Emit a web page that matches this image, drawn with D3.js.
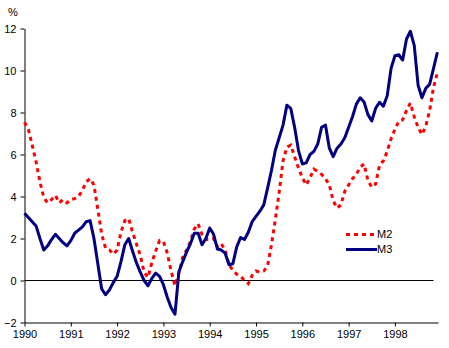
<!DOCTYPE html>
<html>
<head>
<meta charset="utf-8">
<script src="https://cdn.jsdelivr.net/npm/d3@7"></script>
<style>
  html, body { margin: 0; padding: 0; background: #fff; }
  svg { display: block; }
  .lbl { font-family: "Liberation Sans Narrow", "Arial Narrow", "Liberation Sans", Arial, sans-serif; font-size: 11px; fill: #000; }
</style>
</head>
<body>
<svg id="chart" width="449" height="348"></svg>
<script>
// Monthly growth rates, January 1990 to December 1998 (per cent)
const startYear = 1990;
const yearTicks = [1990, 1991, 1992, 1993, 1994, 1995, 1996, 1997, 1998];
const valueTicks = [-2, 0, 2, 4, 6, 8, 10, 12];
const seriesNames = ["M2", "M3"];

const m2 = [
  7.54, 7.2, 6.45, 5.65, 4.7, 3.95, 3.7, 3.85, 4.05, 3.7, 3.85, 3.7,
  3.85, 3.9, 4.0, 4.3, 4.7, 4.85, 4.55, 3.4, 2.2, 1.55, 1.46, 1.25,
  1.45, 2.3, 2.85, 2.95, 2.3, 1.75, 1.2, 0.4, 0.15, 0.85, 1.4, 1.9,
  1.85, 1.3, 0.45, -0.25, 0.35, 1.1, 1.45, 1.85, 2.45, 2.7, 2.2, 1.95,
  1.95, 2.0, 1.6, 1.75, 1.45, 0.75, 0.48, 0.3, 0.2, 0.0, -0.15, 0.25,
  0.45, 0.4, 0.45, 0.7, 1.7, 2.9, 4.2, 5.7, 6.35, 6.45, 5.9, 5.35,
  4.9, 4.55, 4.9, 5.3, 5.2, 5.05, 4.85, 4.55, 3.8, 3.45, 3.6, 4.25,
  4.55, 4.85, 5.05, 5.4, 5.55, 4.76, 4.44, 4.6, 5.48, 5.7, 6.15, 6.75,
  7.2, 7.58, 7.65, 8.1, 8.45, 7.8, 7.3, 6.95, 7.35, 8.1, 9.2, 9.9
];

const m3 = [
  3.2, 3.0, 2.8, 2.6, 2.0, 1.45, 1.65, 1.95, 2.2, 2.0, 1.8, 1.65,
  1.9, 2.25, 2.4, 2.55, 2.8, 2.85, 2.0, 0.8, -0.4, -0.68, -0.45, -0.1,
  0.2, 0.9, 1.7, 2.0, 1.4, 0.85, 0.4, 0.0, -0.25, 0.1, 0.35, 0.2,
  -0.2, -0.8, -1.3, -1.6, 0.4, 0.9, 1.35, 1.75, 2.25, 2.25, 1.7, 2.0,
  2.5, 2.2, 1.5, 1.45, 1.3, 0.75, 0.8, 1.6, 2.05, 1.95, 2.3, 2.8,
  3.05, 3.3, 3.6, 4.4, 5.24, 6.2, 6.8, 7.4, 8.35, 8.2, 7.3, 6.2,
  5.55, 5.6, 6.0, 6.15, 6.5, 7.3, 7.4, 6.3, 5.9, 6.3, 6.5, 6.8,
  7.3, 7.8, 8.4, 8.7, 8.5, 7.9, 7.6, 8.2, 8.49, 8.3, 8.8, 10.1,
  10.7, 10.75, 10.5, 11.5, 11.87, 11.2, 9.3, 8.7, 9.15, 9.35, 10.1, 10.87
];

const svg = d3.select("#chart");

const x = d3.scaleLinear().domain([1990, 1998.93]).range([24.5, 438]);
const y = d3.scaleLinear().domain([-2, 12]).range([322.5, 28.5]);

const t = i => startYear + i / 12;

// Zero reference line
svg.append("line")
  .attr("x1", x(1990)).attr("x2", x(1998 + 10 / 12))
  .attr("y1", y(0)).attr("y2", y(0))
  .attr("stroke", "#000").attr("stroke-width", 1);

// Axes
const xAxis = d3.axisBottom(x).tickValues(yearTicks).tickFormat(d3.format("d"))
  .tickSizeInner(4).tickSizeOuter(0).tickPadding(4);
const yAxis = d3.axisLeft(y).tickValues(valueTicks).tickFormat(d3.format("d"))
  .tickSizeInner(4).tickSizeOuter(0).tickPadding(4);

const gx = svg.append("g").attr("transform", `translate(0,${y(-2)})`).call(xAxis);
const gy = svg.append("g").attr("transform", `translate(${x(1990)},0)`).call(yAxis);
[gx, gy].forEach(g => {
  g.selectAll("path, line").attr("stroke", "#000").attr("stroke-width", 1);
  g.selectAll("text").attr("class", "lbl").attr("fill", "#000");
});

svg.append("text").attr("class", "lbl").attr("x", 8).attr("y", 16).text("%");

// Series lines
const line = d3.line().x((d, i) => x(t(i))).y(d => y(d));

svg.append("path").datum(m2)
  .attr("d", line).attr("fill", "none")
  .attr("stroke", "#ff0000").attr("stroke-width", 3)
  .attr("stroke-dasharray", "4,4");

svg.append("path").datum(m3)
  .attr("d", line).attr("fill", "none")
  .attr("stroke", "#000080").attr("stroke-width", 3)
  .attr("stroke-linejoin", "round");

// Legend
const legend = svg.append("g").attr("transform", "translate(346,234.5)");
const styles = [
  { color: "#ff0000", dash: "4,4" },
  { color: "#000080", dash: null }
];
seriesNames.forEach((name, k) => {
  const row = legend.append("g").attr("transform", `translate(0,${k * 15})`);
  row.append("line").attr("x1", 0).attr("x2", 31).attr("y1", 0).attr("y2", 0)
    .attr("stroke", styles[k].color).attr("stroke-width", 3)
    .attr("stroke-dasharray", styles[k].dash);
  row.append("text").attr("class", "lbl").attr("x", 31).attr("y", 0)
    .attr("dy", "0.32em").text(name);
});
</script>
</body>
</html>
